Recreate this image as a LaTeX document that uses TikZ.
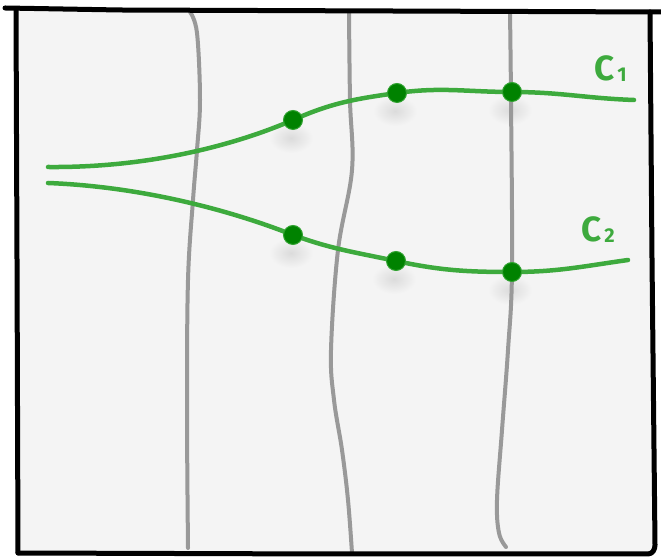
\documentclass[tikz,border=0pt]{standalone}
\usepackage{fontspec}
\setmainfont{Fira Sans}
\definecolor{bgc}{HTML}{F4F4F4}
\definecolor{curvegreen}{HTML}{3DAA3D}
\definecolor{dotgreen}{HTML}{008200}
\definecolor{gridgray}{HTML}{999999}
\tikzset{
  framestroke/.style={line width=5pt, black, line cap=round, line join=round},
  gridline/.style={line width=4pt, gridgray, line cap=round},
  curveline/.style={line width=4.5pt, curvegreen, line cap=round},
  dotnode/.style={circle, fill=dotgreen, draw=curvegreen!80!dotgreen, line width=1pt, minimum size=17pt, inner sep=0pt},
  dotshadow/.style={inner color=black!14, outer color=bgc},
  curvelabel/.style={text=curvegreen, font=\fontseries{sb}\selectfont, inner sep=0pt}
}
\begin{document}
\begin{tikzpicture}[x=1pt,y=1pt]
\useasboundingbox (0,0) rectangle (661,559);
\fill[white] (0,0) rectangle (661,559);
% background
\fill[bgc] (17,549) -- (652,547) -- (656,6) -- (18,6) -- cycle;

% coordinates of curve points
\coordinate (c1a) at (48,392);
\coordinate (p11) at (293,439);
\coordinate (p12) at (397,466);
\coordinate (p13) at (512,467);
\coordinate (c1e) at (634,459);
\coordinate (c2a) at (48,376);
\coordinate (p21) at (293,324);
\coordinate (p22) at (396,298);
\coordinate (p23) at (512,287);
\coordinate (c2e) at (628,299);

% shadows
\foreach \p in {p11,p12,p13,p21,p22,p23}{
  \shade[dotshadow] ([xshift=-2pt,yshift=-18pt]\p) ellipse [x radius=22pt, y radius=15pt];
}

% grid lines
\coordinate (g1a) at (190,547); \coordinate (g1b) at (197,526);
\coordinate (g1c) at (200,459); \coordinate (g1d) at (197,409);
\coordinate (g1e) at (193,359); \coordinate (g1f) at (188,279);
\coordinate (g1g) at (187,150); \coordinate (g1h) at (188,11);
\draw[gridline] plot[smooth, tension=0.6] coordinates {(g1a) (g1b) (g1c) (g1d) (g1e) (g1f) (g1g) (g1h)};
\coordinate (g2a) at (349,547); \coordinate (g2b) at (350,459);
\coordinate (g2c) at (352,389); \coordinate (g2d) at (338,309);
\coordinate (g2e) at (331,209); \coordinate (g2f) at (334,159);
\coordinate (g2g) at (342,109); \coordinate (g2h) at (348,59);
\coordinate (g2i) at (352,6);
\draw[gridline] plot[smooth, tension=0.6] coordinates {(g2a) (g2b) (g2c) (g2d) (g2e) (g2f) (g2g) (g2h) (g2i)};
\coordinate (g3a) at (510,547); \coordinate (g3b) at (511,459);
\coordinate (g3c) at (512,289); \coordinate (g3d) at (508,209);
\coordinate (g3e) at (502,129); \coordinate (g3f) at (497,59);
\coordinate (g3g) at (499,26); \coordinate (g3h) at (506,12);
\draw[gridline] plot[smooth, tension=0.6] coordinates {(g3a) (g3b) (g3c) (g3d) (g3e) (g3f) (g3g) (g3h)};

% curves
\draw[curveline] (c1a) .. controls (160,391) and (247,419) .. (p11)
  to[out=24,in=188] (p12) to[out=8,in=180] (p13) to[out=0,in=178] (c1e);
\draw[curveline] (c2a) .. controls (150,372) and (240,345) .. (p21)
  to[out=-20,in=168] (p22) to[out=-12,in=180] (p23) to[out=0,in=188] (c2e);

% dots
\foreach \p in {p11,p12,p13,p21,p22,p23}{
  \node[dotnode, minimum height=19pt] (n\p) at (\p) {};
}

% labels
\node[curvelabel, anchor=base west] (lab1) at (594,478) {\fontsize{35}{35}\selectfont C\raisebox{-1pt}{\fontsize{20}{20}\selectfont\hspace{3pt}1}};
\node[curvelabel, anchor=base west] (lab2) at (581,317) {\fontsize{35}{35}\selectfont C\raisebox{-1pt}{\fontsize{20}{20}\selectfont\hspace{3pt}2}};

% frame
\draw[framestroke] (5,551) -- (120,549) -- (661,547);
\draw[framestroke] (16,550) -- (17,300) -- (18,6);
\draw[framestroke] (18,6) -- (330,5) -- (648,5) to[out=0,in=-90] (655,14) -- (652,300) -- (650,547);
\end{tikzpicture}
\end{document}
